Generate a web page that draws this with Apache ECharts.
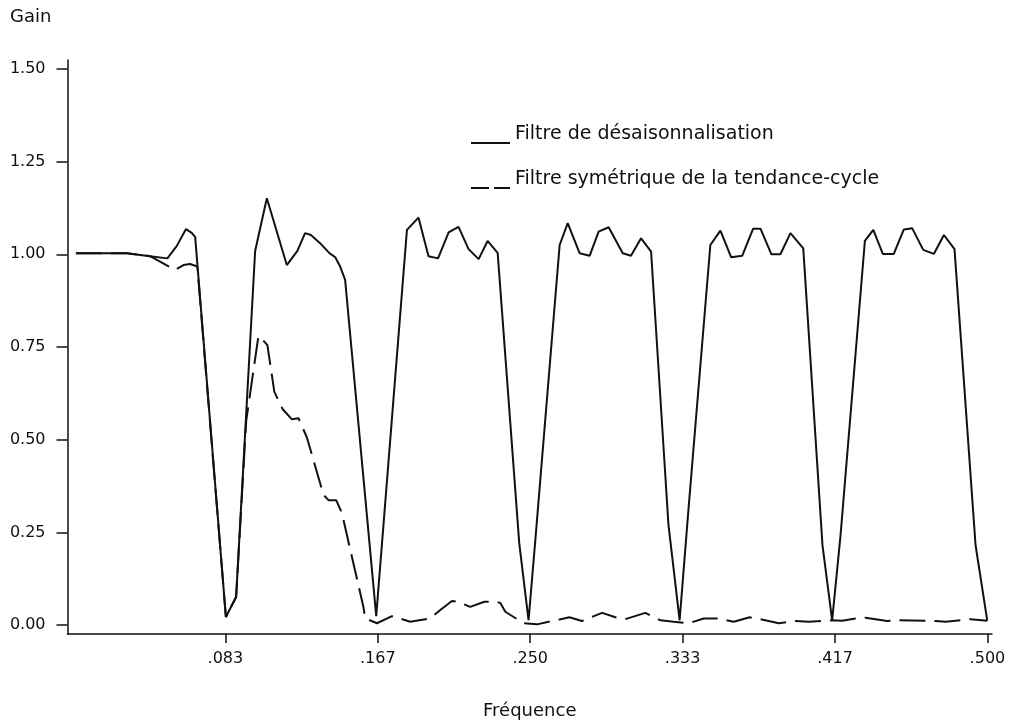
<!DOCTYPE html>
<html>
<head>
<meta charset="utf-8">
<script src="https://cdn.jsdelivr.net/npm/echarts@6/dist/echarts.min.js"></script>
<style>
  html, body { margin: 0; padding: 0; background: #fff; }
  #main { width: 1011px; height: 722px; }
</style>
</head>
<body>
<div id="main"></div>
<script>
// Gain of the seasonal adjustment filter (solid) and symmetric trend-cycle filter (dashed)
const seasFreq = [0.0016, 0.0294, 0.0421, 0.0516, 0.0567, 0.0618, 0.0649, 0.0668, 0.0836, 0.0892,
  0.0996, 0.1060, 0.1169, 0.1227, 0.1269, 0.1301, 0.1351, 0.1402, 0.1434, 0.1461,
  0.1488, 0.1658, 0.1826, 0.1889, 0.1944, 0.1996, 0.2054, 0.2108, 0.2163, 0.2218,
  0.2267, 0.2322, 0.2440, 0.2491, 0.2528, 0.2661, 0.2705, 0.2770, 0.2825, 0.2874,
  0.2929, 0.3006, 0.3051, 0.3106, 0.3161, 0.3256, 0.3317, 0.3365, 0.3485, 0.3540,
  0.3599, 0.3659, 0.3719, 0.3759, 0.3819, 0.3868, 0.3923, 0.3993, 0.4098, 0.4151,
  0.4197, 0.4330, 0.4376, 0.4428, 0.4488, 0.4543, 0.4589, 0.4649, 0.4707, 0.4762,
  0.4820, 0.4935, 0.4999];
const seasGain = [1.003, 1.003, 0.995, 0.989, 1.022, 1.068, 1.058, 1.047, 0.022, 0.076,
  1.009, 1.151, 0.971, 1.009, 1.057, 1.052, 1.030, 1.003, 0.992, 0.967,
  0.931, 0.024, 1.066, 1.099, 0.995, 0.989, 1.059, 1.074, 1.014, 0.987,
  1.036, 1.004, 0.221, 0.013, 0.229, 1.025, 1.084, 1.003, 0.996, 1.061,
  1.073, 1.003, 0.996, 1.043, 1.007, 0.270, 0.013, 0.310, 1.025, 1.064,
  0.992, 0.996, 1.069, 1.069, 1.000, 1.000, 1.057, 1.016, 0.216, 0.013,
  0.243, 1.036, 1.066, 1.001, 1.001, 1.067, 1.070, 1.012, 1.001, 1.052,
  1.014, 0.216, 0.012];

const trendFreq = [0.0016, 0.0294, 0.0421, 0.0476, 0.0558, 0.0604, 0.0640, 0.0680, 0.0836, 0.0892,
  0.0947, 0.1014, 0.1038, 0.1063, 0.1101, 0.1147, 0.1197, 0.1233, 0.1279, 0.1370,
  0.1397, 0.1439, 0.1470, 0.1588, 0.1598, 0.1662, 0.1744, 0.1785, 0.1844, 0.1953,
  0.2012, 0.2072, 0.2103, 0.2172, 0.2249, 0.2309, 0.2336, 0.2364, 0.2464, 0.2537,
  0.2714, 0.2783, 0.2893, 0.2966, 0.3020, 0.3130, 0.3212, 0.3285, 0.3367, 0.3449,
  0.3522, 0.3613, 0.3700, 0.3759, 0.3859, 0.3950, 0.4023, 0.4151, 0.4206, 0.4279,
  0.4333, 0.4452, 0.4521, 0.4717, 0.4771, 0.4908, 0.4999];
const trendGain = [1.003, 1.003, 0.995, 0.980, 0.958, 0.971, 0.974, 0.967, 0.022, 0.076,
  0.550, 0.780, 0.769, 0.755, 0.629, 0.582, 0.555, 0.558, 0.506, 0.351,
  0.337, 0.337, 0.303, 0.049, 0.018, 0.005, 0.024, 0.018, 0.009, 0.018,
  0.042, 0.065, 0.063, 0.049, 0.063, 0.063, 0.060, 0.036, 0.005, 0.002,
  0.021, 0.011, 0.033, 0.021, 0.016, 0.033, 0.013, 0.009, 0.005, 0.018,
  0.018, 0.009, 0.021, 0.016, 0.005, 0.011, 0.009, 0.013, 0.012, 0.018,
  0.020, 0.011, 0.013, 0.011, 0.009, 0.016, 0.012];

const xTicks = [1 / 12, 2 / 12, 3 / 12, 4 / 12, 5 / 12, 6 / 12];
const yTicks = [0, 0.25, 0.5, 0.75, 1.0, 1.25, 1.5];

const seasName = 'Filtre de désaisonnalisation';
const trendName = 'Filtre symétrique de la tendance-cycle';

function pairs(xs, ys) {
  return xs.map((x, i) => [x, ys[i]]);
}

const ink = '#111';
const font = 'DejaVu Sans';

// legend keys sit at the text baseline, like in the printed figure
const solidKey = 'path://M0,0M0,18h39v2h-39z';
const dashKey = 'path://M0,0M0,18h18v2h-18zM23,18h16v2h-16z';

const chart = echarts.init(document.getElementById('main'));
chart.setOption({
  animation: false,
  backgroundColor: '#fff',
  grid: { left: 67.5, right: 19, top: 60, bottom: 88, outerBoundsMode: 'none' },
  legend: {
    orient: 'vertical',
    left: 466,
    top: 119,
    itemWidth: 39,
    itemHeight: 20,
    itemGap: 25,
    itemStyle: { color: ink, borderWidth: 0 },
    textStyle: { fontFamily: font, fontSize: 19, color: ink, lineHeight: 20 },
    data: [
      { name: seasName, icon: solidKey },
      { name: trendName, icon: dashKey }
    ]
  },
  xAxis: {
    type: 'value',
    min: -0.003,
    max: 0.5025,
    name: 'Fréquence',
    nameLocation: 'middle',
    nameGap: 68,
    nameTextStyle: { fontFamily: font, fontSize: 18, color: ink },
    axisLine: { show: true, onZero: false, lineStyle: { color: ink, width: 1.5 } },
    axisTick: { show: true, length: 9, customValues: xTicks, lineStyle: { color: ink, width: 1.5 } },
    axisLabel: {
      customValues: xTicks,
      margin: 17,
      fontFamily: font,
      fontSize: 16,
      color: ink,
      formatter: v => '.' + String(Math.round(v * 1000)).padStart(3, '0')
    },
    splitLine: { show: false }
  },
  yAxis: {
    type: 'value',
    min: -0.024,
    max: 1.524,
    name: 'Gain',
    nameLocation: 'end',
    nameGap: 34,
    nameTextStyle: { fontFamily: font, fontSize: 18, color: ink, align: 'right', padding: [0, 16, 0, 0] },
    axisLine: { show: true, onZero: false, lineStyle: { color: ink, width: 1.5 } },
    axisTick: { show: true, length: 11, customValues: yTicks, lineStyle: { color: ink, width: 1.5 } },
    axisLabel: {
      customValues: yTicks,
      margin: 22,
      fontFamily: font,
      fontSize: 16,
      color: ink,
      formatter: v => v.toFixed(2)
    },
    splitLine: { show: false }
  },
  series: [
    {
      name: trendName,
      type: 'line',
      data: pairs(trendFreq, trendGain),
      symbol: 'none',
      lineStyle: { color: ink, width: 2, type: [26, 9] },
      itemStyle: { color: ink },
      z: 2
    },
    {
      name: seasName,
      type: 'line',
      data: pairs(seasFreq, seasGain),
      symbol: 'none',
      lineStyle: { color: ink, width: 2 },
      itemStyle: { color: ink },
      z: 3
    }
  ]
});
</script>
</body>
</html>
